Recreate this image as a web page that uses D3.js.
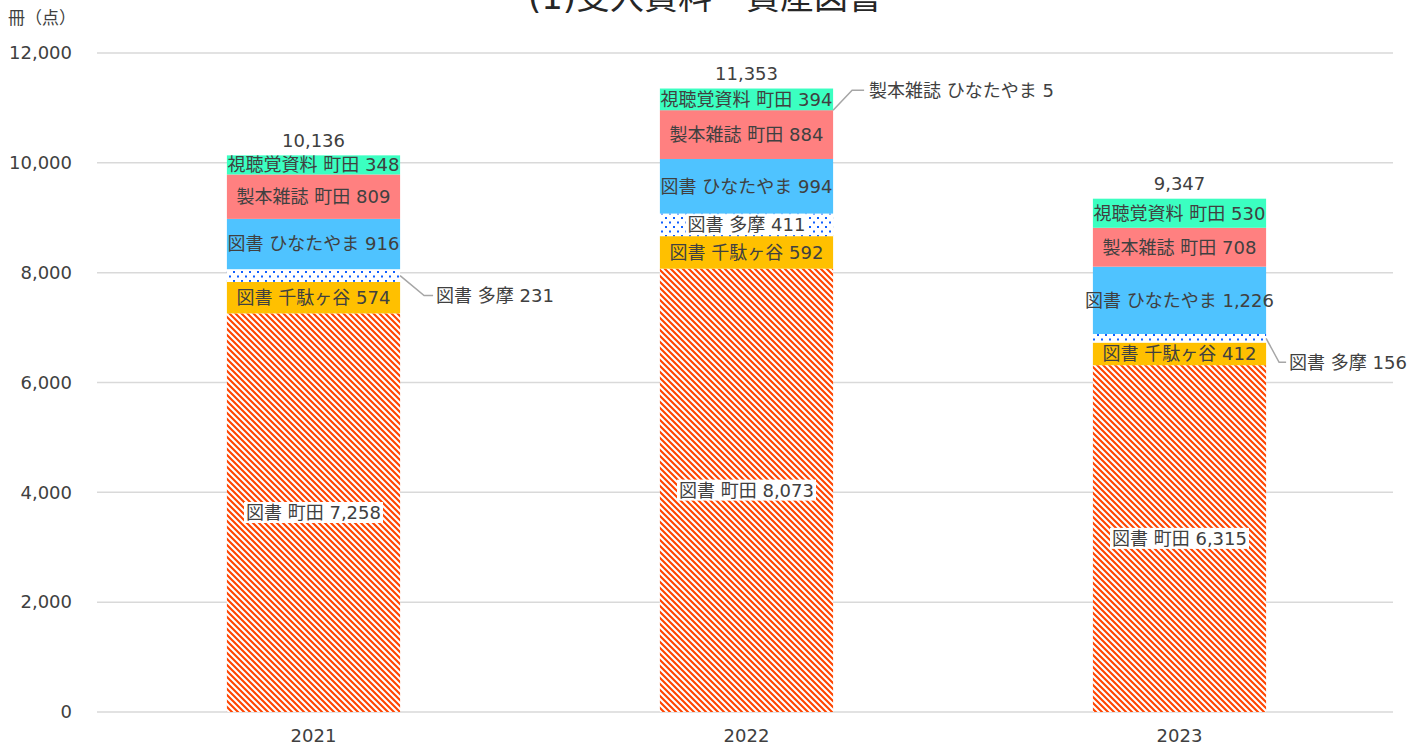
<!DOCTYPE html>
<html>
<head>
<meta charset="utf-8">
<script src="https://cdn.jsdelivr.net/npm/d3@7"></script>
<style>
  html, body { margin: 0; padding: 0; background: #ffffff; }
  svg { display: block; }
  text { font-family: "DejaVu Sans", "Noto Sans CJK JP", sans-serif; fill: #404040; }
</style>
</head>
<body>
<svg id="chart" width="1413" height="746"></svg>
<script>
// Acquisitions per year, stacked by material type and branch
const years = ["2021", "2022", "2023"];
const seriesNames = [
  "図書 町田", "図書 千駄ヶ谷", "図書 多摩", "図書 ひなたやま",
  "製本雑誌 町田", "製本雑誌 ひなたやま", "視聴覚資料 町田"
];
const booksMachida      = [7258, 8073, 6315];
const booksSendagaya    = [574, 592, 412];
const booksTama         = [231, 411, 156];
const booksHinatayama   = [916, 994, 1226];
const journalsMachida   = [809, 884, 708];
const journalsHinatayama = [0, 5, 0];
const avMachida         = [348, 394, 530];
const yTicks = [0, 2000, 4000, 6000, 8000, 10000, 12000];

const seriesValues = [booksMachida, booksSendagaya, booksTama, booksHinatayama,
                      journalsMachida, journalsHinatayama, avMachida];

const rows = years.map((yr, i) => {
  const r = { year: yr };
  seriesNames.forEach((s, k) => { r[s] = seriesValues[k][i]; });
  return r;
});

const svg = d3.select("#chart");
const fmt = d3.format(",");

// Fills: solid colours plus two patterns
const defs = svg.append("defs");
const stripe = defs.append("pattern").attr("id", "stripe")
  .attr("patternUnits", "userSpaceOnUse").attr("width", 6).attr("height", 6);
stripe.append("rect").attr("width", 6).attr("height", 6).attr("fill", "#ffffff");
stripe.append("path")
  .attr("d", "M-1,-1 L7,7 M-1,5 L1,7 M5,-1 L7,1")
  .attr("stroke", "#FF4500").attr("stroke-width", 2.1);

const dots = defs.append("pattern").attr("id", "dots")
  .attr("patternUnits", "userSpaceOnUse").attr("width", 8).attr("height", 9);
dots.append("rect").attr("width", 8).attr("height", 9).attr("fill", "#ffffff");
dots.append("rect").attr("x", 1).attr("y", 1).attr("width", 2).attr("height", 2).attr("fill", "#1060FF");
dots.append("rect").attr("x", 5).attr("y", 5.5).attr("width", 2).attr("height", 2).attr("fill", "#1060FF");

const fills = {
  "図書 町田": "url(#stripe)",
  "図書 千駄ヶ谷": "#FFC000",
  "図書 多摩": "url(#dots)",
  "図書 ひなたやま": "#4FC3FF",
  "製本雑誌 町田": "#FF8080",
  "製本雑誌 ひなたやま": "#C0504D",
  "視聴覚資料 町田": "#3BFFC1"
};
const patterned = new Set(["図書 町田", "図書 多摩"]);

const x = d3.scaleBand().domain(years).range([97, 1396])
  .paddingInner(0.6).paddingOuter(0.3);
const y = d3.scaleLinear().domain([0, 12000]).range([712, 53]);

// Gridlines
svg.append("g").selectAll("line").data(yTicks).join("line")
  .attr("x1", 97).attr("x2", 1393)
  .attr("y1", d => y(d)).attr("y2", d => y(d))
  .attr("stroke", "#D9D9D9").attr("stroke-width", 1.5);

// Y axis labels
const yAxis = svg.append("g").attr("transform", "translate(72,0)")
  .call(d3.axisLeft(y).tickValues(yTicks).tickFormat(fmt).tickSize(0).tickPadding(0));
yAxis.select(".domain").remove();
yAxis.selectAll("text").attr("font-size", 18).attr("fill", "#404040")
  .style("font-family", "'DejaVu Sans', 'Noto Sans CJK JP', sans-serif");

// X axis labels
const xAxis = svg.append("g").attr("transform", "translate(0,712)")
  .call(d3.axisBottom(x).tickSize(0).tickPadding(17));
xAxis.select(".domain").remove();
xAxis.selectAll("text").attr("font-size", 18).attr("fill", "#404040")
  .style("font-family", "'DejaVu Sans', 'Noto Sans CJK JP', sans-serif");

// Stacked bars
const stacked = d3.stack().keys(seriesNames)(rows);
const layers = svg.append("g").selectAll("g").data(stacked).join("g")
  .attr("fill", d => fills[d.key]);
layers.selectAll("rect").data(d => d.map(v => ({ key: d.key, v }))).join("rect")
  .attr("x", d => x(d.v.data.year))
  .attr("width", x.bandwidth())
  .attr("y", d => y(d.v[1]))
  .attr("height", d => y(d.v[0]) - y(d.v[1]));

// Segment labels: thin segments get a leader line to the right
const callouts = {
  "2021|図書 多摩": { ex: 24, ey: 20, lx: 33, tx: 36 },
  "2022|製本雑誌 ひなたやま": { ex: 19, ey: -20, lx: 31, tx: 36 },
  "2023|図書 多摩": { ex: 13, ey: 24, lx: 20, tx: 23 }
};

const labelG = svg.append("g");
stacked.forEach(layer => {
  layer.forEach(v => {
    const val = v[1] - v[0];
    if (!val) return;
    const year = v.data.year;
    const cy = y((v[0] + v[1]) / 2);
    const txt = `${layer.key} ${fmt(val)}`;
    const co = callouts[`${year}|${layer.key}`];
    if (co) {
      const x0 = x(year) + x.bandwidth();
      labelG.append("path")
        .attr("d", `M${x0},${cy} L${x0 + co.ex},${cy + co.ey} L${x0 + co.lx},${cy + co.ey}`)
        .attr("fill", "none").attr("stroke", "#A6A6A6").attr("stroke-width", 1.5);
      labelG.append("text").attr("x", x0 + co.tx).attr("y", cy + co.ey)
        .attr("dy", "0.35em").attr("font-size", 18).text(txt);
      return;
    }
    const cx = x(year) + x.bandwidth() / 2;
    const g = labelG.append("g");
    const t = g.append("text").attr("x", cx).attr("y", cy)
      .attr("dy", "0.35em").attr("text-anchor", "middle")
      .attr("font-size", 18).text(txt);
    if (patterned.has(layer.key)) {
      const b = t.node().getBBox();
      g.insert("rect", "text")
        .attr("x", b.x - 2).attr("y", b.y)
        .attr("width", b.width + 4).attr("height", b.height)
        .attr("fill", "#ffffff");
    }
  });
});

// Totals above each bar
const topLayer = stacked[stacked.length - 1];
svg.append("g").selectAll("text").data(topLayer).join("text")
  .attr("x", d => x(d.data.year) + x.bandwidth() / 2)
  .attr("y", d => y(d[1]) - 15)
  .attr("dy", "0.35em").attr("text-anchor", "middle")
  .attr("font-size", 18)
  .text(d => fmt(d[1]));

// Title and unit
svg.append("text").attr("x", 705).attr("y", 9)
  .attr("text-anchor", "middle").attr("font-size", 34)
  .style("fill", "#262626")
  .text("(1)受入資料・資産図書");
svg.append("text").attr("x", 8).attr("y", 18).attr("dy", "0.35em")
  .attr("font-size", 17).text("冊（点）");
</script>
</body>
</html>
